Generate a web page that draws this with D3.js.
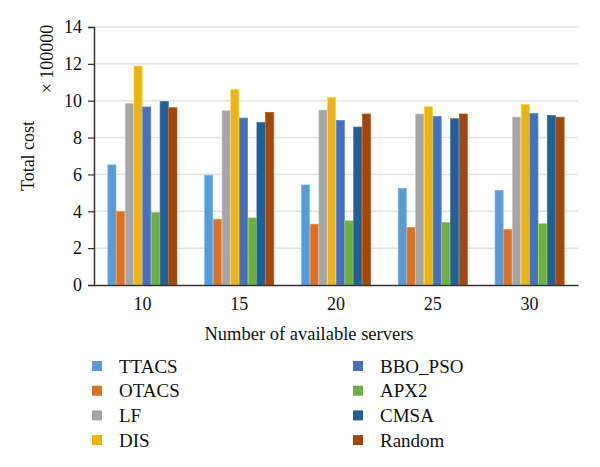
<!DOCTYPE html>
<html>
<head>
<meta charset="utf-8">
<script src="https://cdn.jsdelivr.net/npm/d3@7"></script>
<style>
  body { margin: 0; background: #fff; }
  svg text { font-family: "Liberation Serif", "DejaVu Serif", serif; fill: #111; }
</style>
</head>
<body>
<div id="chart"></div>
<script>
// ------ DATA ------
const servers = ["10", "15", "20", "25", "30"];
const methods = ["TTACS", "OTACS", "LF", "DIS", "BBO_PSO", "APX2", "CMSA", "Random"];
const colors  = ["#5b9bd5", "#d6722b", "#a5a5a5", "#e9b31e", "#4a70b8", "#70ad47", "#255e91", "#9e480e"];

// values in units of 100000, one array per method (order = servers)
const TTACS   = [6.52, 5.96, 5.43, 5.25, 5.13];
const OTACS   = [3.99, 3.57, 3.30, 3.13, 3.01];
const LF      = [9.84, 9.46, 9.49, 9.28, 9.11];
const DIS     = [11.88, 10.60, 10.18, 9.67, 9.80];
const BBO_PSO = [9.66, 9.06, 8.93, 9.15, 9.31];
const APX2    = [3.93, 3.64, 3.48, 3.39, 3.32];
const CMSA    = [9.95, 8.82, 8.57, 9.02, 9.20];
const Random  = [9.62, 9.37, 9.28, 9.28, 9.11];
const series  = [TTACS, OTACS, LF, DIS, BBO_PSO, APX2, CMSA, Random];

const yTicks = [0, 2, 4, 6, 8, 10, 12, 14];

// ------ LAYOUT ------
const W = 600, H = 467;
const plot = {left: 94, right: 578, top: 27, bottom: 285};

const svg = d3.select("#chart").append("svg")
  .attr("width", W).attr("height", H);

const x0 = d3.scaleBand()
  .domain(servers)
  .range([plot.left, plot.right])
  .paddingInner(0.28)
  .paddingOuter(0.14);

const x1 = d3.scaleBand()
  .domain(methods)
  .range([0, x0.bandwidth()]);

const y = d3.scaleLinear()
  .domain([0, 14])
  .range([plot.bottom, plot.top]);

// gridlines
svg.append("g")
  .selectAll("line")
  .data(yTicks.filter(d => d > 0))
  .join("line")
    .attr("x1", plot.left).attr("x2", plot.right)
    .attr("y1", d => y(d)).attr("y2", d => y(d))
    .attr("stroke", "#e3e3e3").attr("stroke-width", 1.5);

// bars (thin lighter edge like the original)
const table = servers.map((s, i) => ({server: s, vals: methods.map((m, j) => ({m: m, v: series[j][i], c: colors[j]}))}));

svg.append("g")
  .selectAll("g")
  .data(table)
  .join("g")
    .attr("transform", d => `translate(${x0(d.server)},0)`)
  .selectAll("rect")
  .data(d => d.vals)
  .join("rect")
    .attr("x", d => x1(d.m) + 0.3)
    .attr("width", x1.bandwidth() - 0.6)
    .attr("y", d => y(d.v))
    .attr("height", d => y(0) - y(d.v))
    .attr("fill", d => d.c)
    .attr("stroke", d => d3.color(d.c).brighter(0.5))
    .attr("stroke-width", 0.7);

// left axis
const yAxis = svg.append("g")
  .attr("transform", `translate(${plot.left},0)`)
  .call(d3.axisLeft(y).tickValues(yTicks).tickSize(6).tickPadding(6));
yAxis.select(".domain").attr("stroke", "#333").attr("stroke-width", 1.5);
yAxis.selectAll(".tick line").attr("stroke", "#333").attr("stroke-width", 1.2);
yAxis.selectAll("text").attr("font-size", 18).style("font-family", '"Liberation Serif", serif').attr("fill", "#111");

// bottom axis
const xAxis = svg.append("g")
  .attr("transform", `translate(0,${plot.bottom})`)
  .call(d3.axisBottom(x0).tickSize(0).tickPadding(12).tickSizeOuter(0));
xAxis.select(".domain").attr("stroke", "#333").attr("stroke-width", 1.5);
xAxis.selectAll("text").attr("font-size", 18).style("font-family", '"Liberation Serif", serif').attr("fill", "#111");

// axis titles
svg.append("text")
  .attr("transform", "translate(34,156) rotate(-90)")
  .attr("text-anchor", "middle")
  .attr("font-size", 18)
  .text("Total cost");

svg.append("text")
  .attr("transform", "translate(53,59) rotate(-90)")
  .attr("text-anchor", "middle")
  .attr("font-size", 18)
  .text("× 100000");

svg.append("text")
  .attr("x", 309).attr("y", 340)
  .attr("text-anchor", "middle")
  .attr("font-size", 18.5)
  .text("Number of available servers");

// legend: two columns of four
const legend = svg.append("g")
  .selectAll("g")
  .data(methods)
  .join("g")
    .attr("transform", (d, i) => `translate(${i < 4 ? 92 : 353},${366 + (i % 4) * 24.7})`);

legend.append("rect")
  .attr("x", 0).attr("y", -5)
  .attr("width", 10).attr("height", 10)
  .attr("fill", (d, i) => colors[i]);

legend.append("text")
  .attr("x", 27).attr("y", 6.5)
  .attr("font-size", 19)
  .text(d => d);
</script>
</body>
</html>
